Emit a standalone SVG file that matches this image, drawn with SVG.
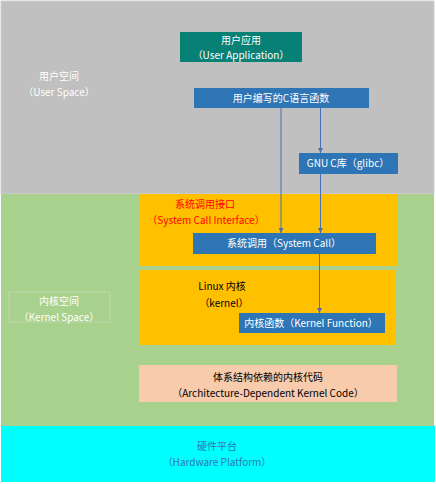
<svg xmlns="http://www.w3.org/2000/svg" width="436" height="484" viewBox="0 0 436 484">
<style>
text{font-family:"Noto Sans CJK SC","Liberation Sans",sans-serif;font-size:10px;text-anchor:middle}
.w{fill:#ffffff}
.blue{fill:#2e75b6}
.conn{stroke:#4a6fb5;stroke-width:1;fill:none;marker-end:url(#ah)}
</style>
<defs>
<marker id="ah" viewBox="0 0 6 6" refX="6" refY="3" markerWidth="5" markerHeight="5" orient="auto" markerUnits="userSpaceOnUse">
<path d="M0,0 L6,3 L0,6 z" fill="#4a6fb5"/>
</marker>
</defs>
<rect x="0" y="0" width="436" height="484" fill="#ffffff"/>
<g id="user-space">
<rect x="1" y="1" width="433" height="193" fill="#c0c0c0" stroke="#d0d0d0"/>
<text x="59" y="80" class="w" font-size="12">用户空间</text>
<text x="59" y="96" class="w" font-size="11">（User Space）</text>
</g>
<g id="kernel-space">
<rect x="1" y="194" width="433" height="232" fill="#a9d18e"/>
<rect x="9" y="292" width="101" height="30" fill="none" stroke="#c2dcb0" stroke-width="0.8"/>
<text x="59" y="305" class="w" font-size="12">内核空间</text>
<text x="59" y="321" class="w" font-size="11.5">（Kernel Space）</text>
</g>
<g id="hardware">
<rect x="1" y="426" width="434" height="56" fill="#00ffff"/>
<text x="217" y="450" class="blue" font-size="12">硬件平台</text>
<text x="217" y="466" class="blue" font-size="11.5">（Hardware Platform）</text>
</g>
<g id="user-app">
<rect x="180" y="32" width="122" height="30" fill="#078075"/>
<text x="241" y="44" class="w" font-size="12">用户应用</text>
<text x="241" y="59" class="w" font-size="11">（User Application）</text>
</g>
<g id="c-func">
<rect x="194" y="88" width="175" height="20" fill="#2e75b6"/>
<text x="281" y="102" class="w">用户编写的C语言函数</text>
</g>
<g id="glibc">
<rect x="299" y="153" width="99" height="21" fill="#2e75b6"/>
<text x="348" y="167" class="w">GNU C库（glibc）</text>
</g>
<g id="sci">
<rect x="139" y="194" width="258" height="72" fill="#ffc000"/>
<text x="205" y="208" fill="#ff0000" font-size="12">系统调用接口</text>
<text x="206" y="224" fill="#ff0000" font-size="11">（System Call Interface）</text>
</g>
<g id="syscall">
<rect x="193" y="233" width="183" height="21" fill="#2e75b6"/>
<text x="284" y="247" class="w">系统调用（System Call）</text>
</g>
<g id="linux-kernel">
<rect x="139" y="270" width="257" height="75" fill="#ffc000"/>
<text x="222" y="290" fill="#000000" font-size="11">Linux 内核</text>
<text x="224" y="307" fill="#000000" font-size="11.5">（kernel）</text>
</g>
<g id="kernel-func">
<rect x="239" y="313" width="146" height="20" fill="#2e75b6"/>
<text x="311" y="327" class="w" font-size="9.5">内核函数（Kernel Function）</text>
</g>
<g id="arch-code">
<rect x="139" y="365" width="258" height="37" fill="#f8cbad"/>
<text x="268" y="381" fill="#000000" font-size="12">体系结构依赖的内核代码</text>
<text x="268" y="397" fill="#000000" font-size="9">（Architecture-Dependent Kernel Code）</text>
</g>
<g id="connectors">
<line x1="281" y1="108" x2="281" y2="233" class="conn"/>
<line x1="320.5" y1="108" x2="320.5" y2="153" class="conn"/>
<line x1="320.5" y1="174" x2="320.5" y2="233" class="conn"/>
<line x1="319.5" y1="254" x2="319.5" y2="313" class="conn"/>
</g>
</svg>
